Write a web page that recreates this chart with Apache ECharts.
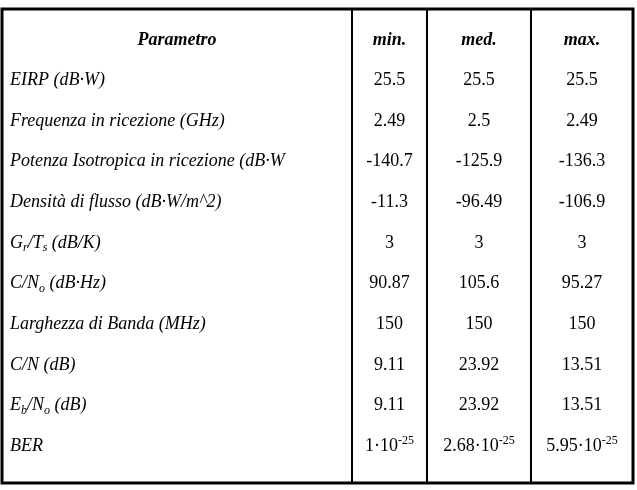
<!DOCTYPE html>
<html>
<head>
<meta charset="utf-8">
<script src="https://cdn.jsdelivr.net/npm/echarts@6/dist/echarts.min.js"></script>
<style>
  html, body { margin: 0; padding: 0; background: #fff; }
  #main { width: 637px; height: 490px; }
</style>
</head>
<body>
<div id="main"></div>
<script>
// intestazioni
var headers = ['Parametro', 'min.', 'med.', 'max.'];
// parametri (con markup rich per pedici)
var params = [
  'EIRP (dB·W)',
  'Frequenza in ricezione (GHz)',
  'Potenza Isotropica in ricezione (dB·W',
  'Densità di flusso (dB·W/m^2)',
  'G{sub|r}/T{sub|s} (dB/K)',
  'C/N{sub|o} (dB·Hz)',
  'Larghezza di Banda (MHz)',
  'C/N (dB)',
  'E{sub|b}/N{sub|o} (dB)',
  'BER'
];
var minVals = [25.5, 2.49, -140.7, -11.3, 3, 90.87, 150, 9.11, 9.11, 1e-25];
var medVals = [25.5, 2.5, -125.9, -96.49, 3, 105.6, 150, 23.92, 23.92, 2.68e-25];
var maxVals = [25.5, 2.49, -136.3, -106.9, 3, 95.27, 150, 13.51, 13.51, 5.95e-25];

// bordi colonne (unita' asse x)
var colEdges = [0, 350, 425, 529, 631];

var cols = [params, minVals, medVals, maxVals];
var cells = [];
for (var c = 0; c < 4; c++) {
  cells.push([c, 0]);
  for (var r = 0; r < params.length; r++) cells.push([c, r + 1]);
}

function fmt(v) {
  if (v !== 0 && Math.abs(v) < 1e-6) {
    var p = v.toExponential().split('e');
    return p[0] + '·10{sup|' + p[1] + '}';
  }
  return String(v);
}

var rich = {
  sub: { fontSize: 12, fontFamily: 'Liberation Serif', fontStyle: 'italic', verticalAlign: 'bottom', lineHeight: 13, fill: '#000' },
  sup: { fontSize: 12, fontFamily: 'Liberation Serif', verticalAlign: 'top', lineHeight: 13, fill: '#000' }
};

var myChart = echarts.init(document.getElementById('main'));
var option = {
  backgroundColor: '#fff',
  animation: false,
  grid: { left: 2, width: 631, top: 9, bottom: 7, show: true, borderColor: '#000', borderWidth: 3, backgroundColor: '#fff' },
  xAxis: { type: 'value', min: colEdges[0], max: colEdges[4], show: false },
  yAxis: { type: 'value', inverse: true, min: -0.76, max: 10.91, show: false },
  series: [{
    type: 'custom',
    data: cells,
    renderItem: function (params, api) {
      var c = api.value(0), r = api.value(1);
      var left = api.coord([colEdges[c], r])[0];
      var right = api.coord([colEdges[c + 1], r])[0];
      var y = api.coord([0, r])[1];
      var text, x, align = 'center', font;
      if (r === 0) {
        text = headers[c];
        x = (left + right) / 2;
        font = 'italic bold 18px "Liberation Serif"';
      } else if (c === 0) {
        text = cols[0][r - 1];
        x = left + 8;
        align = 'left';
        font = 'italic 18px "Liberation Serif"';
      } else {
        text = fmt(cols[c][r - 1]);
        x = (left + right) / 2;
        font = '18px "Liberation Serif"';
      }
      return {
        type: 'text',
        style: {
          text: text, x: x, y: y, align: align, verticalAlign: 'middle',
          font: font, fill: '#000', lineHeight: 22, rich: rich
        }
      };
    },
    markLine: {
      silent: true,
      symbol: 'none',
      label: { show: false },
      lineStyle: { color: '#000', width: 2, type: 'solid' },
      data: colEdges.slice(1, 4).map(function (e) { return { xAxis: e }; })
    }
  }]
};
myChart.setOption(option);
</script>
</body>
</html>
